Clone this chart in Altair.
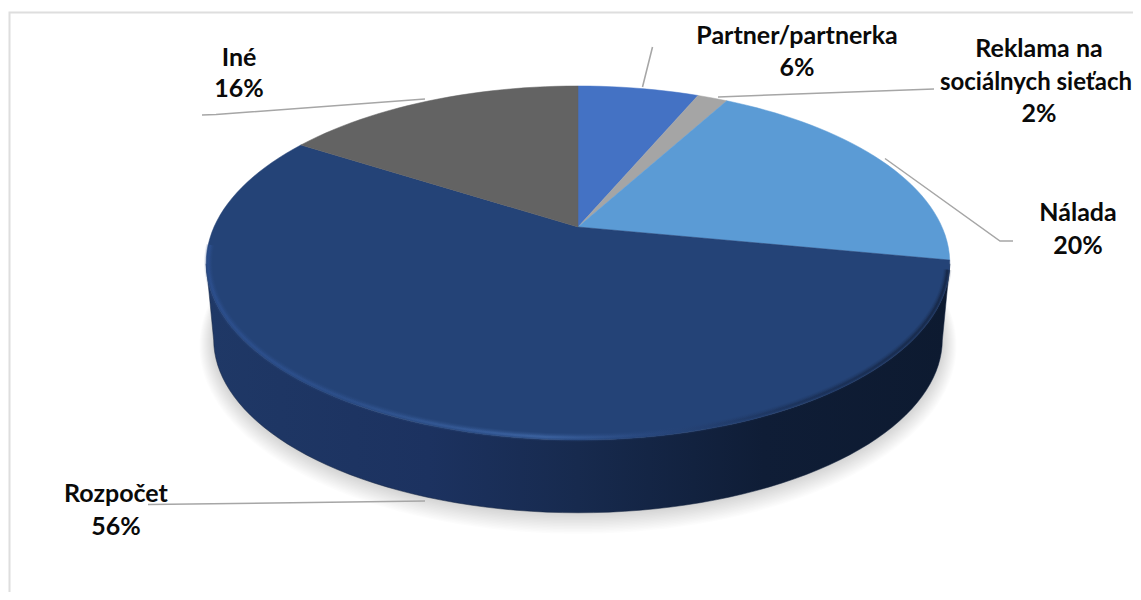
import math
import altair as alt
import pandas as pd

# ---- chart values ----
categories = ["Partner/partnerka", "Reklama na sociálnych sieťach", "Nálada", "Rozpočet", "Iné"]
shares = [6.4, 1.6, 20, 56, 16]
colors = ["#4472C4", "#A5A5A5", "#5B9BD5", "#244377", "#636363"]

# ---- label text, one row per printed line ----
label_text = ["Partner/partnerka", "6%", "Reklama na", "2%",
              "Nálada", "20%", "Iné", "16%", "Rozpočet", "56%"]
label_x = [797, 797, 1039, 1039, 1078, 1078, 239, 239, 116, 116]
label_y = [44, 76, 57, 122, 221, 254, 66, 97, 502, 535]
edge_label_text = ["sociálnych sieťach"]
edge_label_x = [1036]
edge_label_y = [90]

# ---- leader lines ----
leaders = {
    "Partner/partnerka": [(642.5, 87), (652.5, 47)],
    "Reklama": [(718, 97), (934, 89)],
    "Nálada": [(885, 158.5), (1000, 241), (1013, 241)],
    "Iné": [(425, 99), (216, 114.5), (202, 115)],
    "Rozpočet": [(425, 501), (148, 504.5)],
}

# ---- tilted-disc geometry (page pixels) ----
CX, CY = 578, 227
A, B, K = 364, 169.7, 0.2034


def rim(theta_deg, scale=1.0, dy=0.0, grow=0.0):
    t = math.radians(theta_deg)
    u, v = math.sin(t), math.cos(t)
    d = 1 + K * v
    return (CX + (scale * A + grow) * u / d, CY + dy - (scale * B + grow) * v / d)


def sweep(a, b, **kw):
    n = max(2, int(abs(b - a) / 2) + 1)
    return [rim(a + (b - a) * i / (n - 1), **kw) for i in range(n)]


def frame(points):
    return pd.DataFrame({"px": [p[0] for p in points], "py": [p[1] for p in points], "i": range(len(points))})


X = alt.X("px:Q", scale=alt.Scale(domain=[8, 1133], nice=False, zero=False), axis=None)
Y = alt.Y("py:Q", scale=alt.Scale(domain=[592, 8], nice=False, zero=False), axis=None)
O = alt.Order("i:Q")


def poly(points, **mark):
    return alt.Chart(frame(points)).mark_line(**mark).encode(x=X, y=Y, order=O)


layers = []

# chart-area frame
layers.append(poly([(9.5, 592), (9.5, 12.5), (1133, 12.5)], stroke="#DEDEDE", strokeWidth=2))

# soft shadow under the disc
for g in range(14, 0, -1):
    pts = sweep(85, 275, scale=0.98, dy=77 + g * 0.25, grow=g)
    pts.append(pts[0])
    layers.append(poly(pts, fill="#000000", fillOpacity=0.011, strokeWidth=0, stroke="#000000", strokeOpacity=0))

# side wall
TH_R, TH_L = 102, 258
wall = sweep(TH_R, TH_L) + sweep(TH_L, TH_R, scale=0.98, dy=77)
wall.append(wall[0])
wall_fill = alt.Gradient(
    gradient="linear", x1=0, x2=1, y1=0, y2=0,
    stops=[
        alt.GradientStop(color="#1F3866", offset=0),
        alt.GradientStop(color="#1C3260", offset=0.3),
        alt.GradientStop(color="#172A4E", offset=0.5),
        alt.GradientStop(color="#0F1D36", offset=0.75),
        alt.GradientStop(color="#0D1A30", offset=1),
    ],
)
layers.append(poly(wall, fill=wall_fill, stroke="#13223F", strokeWidth=0.5))

# top-face slices, clockwise from twelve o'clock
cum = 0
for name, share, col in zip(categories, shares, colors):
    a = cum / sum(shares) * 360
    cum += share
    b = cum / sum(shares) * 360
    pts = [(CX, CY)] + sweep(a, b) + [(CX, CY)]
    layers.append(poly(pts, fill=col, stroke=col, strokeWidth=0.5))

# rim bevel along the front of the top face
rim_grad = alt.Gradient(
    gradient="linear", x1=0, x2=1, y1=0, y2=0,
    stops=[
        alt.GradientStop(color="#2D5090", offset=0),
        alt.GradientStop(color="#2F528E", offset=0.2),
        alt.GradientStop(color="#4068A8", offset=0.45),
        alt.GradientStop(color="#2A4A82", offset=0.58),
        alt.GradientStop(color="#1A2F55", offset=0.8),
        alt.GradientStop(color="#14233F", offset=1),
    ],
)
for width, op in [(8, 0.12), (6, 0.18), (4, 0.3), (2, 0.55)]:
    layers.append(poly(sweep(104, 264, grow=-2), stroke=rim_grad, strokeWidth=width, opacity=op))

# leader lines
for pts in leaders.values():
    layers.append(poly(pts, stroke="#A6A6A6", strokeWidth=1.5))

# labels
labels = pd.DataFrame({"px": label_x, "py": label_y, "t": label_text})
layers.append(
    alt.Chart(labels)
    .mark_text(font="Lato", fontWeight="bold", fontSize=25, color="#0A0A0A", align="center", baseline="alphabetic")
    .encode(x=X, y=Y, text="t:N")
)
edge_labels = pd.DataFrame({"px": edge_label_x, "py": edge_label_y, "t": edge_label_text})
layers.append(
    alt.Chart(edge_labels)
    .mark_text(font="Lato", fontWeight="bold", fontSize=24, color="#0A0A0A", align="center", baseline="alphabetic")
    .encode(x=X, y=Y, text="t:N")
)

chart = (
    alt.layer(*layers)
    .properties(width=1125, height=584, padding=0, autosize=alt.AutoSizeParams(type="none"))
    .configure_view(stroke=None)
)
chart.save("out.html", embed_options={"renderer": "svg", "actions": False})
